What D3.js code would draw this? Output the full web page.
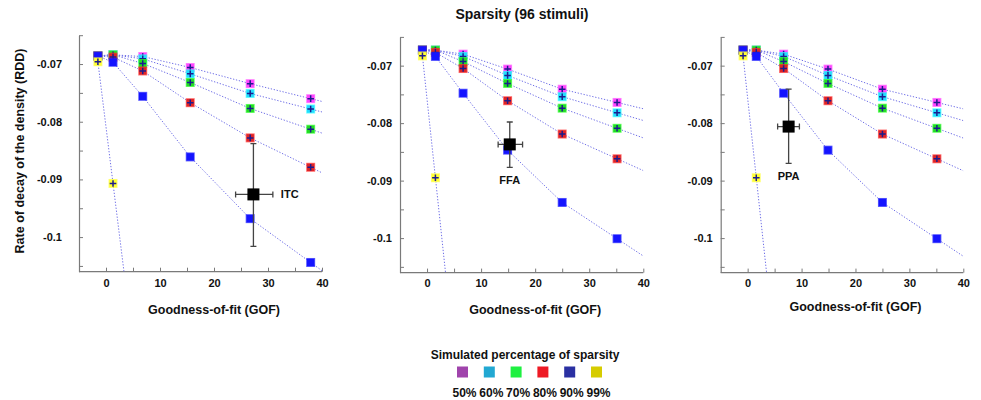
<!DOCTYPE html>
<html><head><meta charset="utf-8">
<script src="https://cdn.jsdelivr.net/npm/d3@7"></script>
<style>
body{margin:0;background:#fff}
svg{display:block}
text{font-family:"Liberation Sans",Arial,sans-serif;font-weight:bold;fill:#111}
</style>
</head><body>
<svg id="c" width="981" height="400"></svg>
<script>
// ---------- data ----------
const sparsityLevels = ["50%", "60%", "70%", "80%", "90%", "99%"];
const markerColors = ["#ff44ff", "#22ddff", "#22dd22", "#e02424", "#1414ff", "#ffff33"];
const legendColors = ["#a044ac", "#22a8d2", "#1ff041", "#ee1a24", "#2a30a2", "#d6cc00"];

const xDomain = [-5, 40];
const yDomain = [-0.106, -0.065];
const xTickValues = [0, 5, 10, 15, 20, 25, 30, 35, 40];
const xTickLabels = ["0", "", "10", "", "20", "", "30", "", "40"];
const yTickValues = [-0.105, -0.1, -0.095, -0.09, -0.085, -0.08, -0.075, -0.07, -0.065];
const yTickLabels = ["", "-0.1", "", "-0.09", "", "-0.08", "", "-0.07", ""];

// Panel 1 (ITC)
const gofITC = [-1.5, 1.3, 6.8, 15.6, 26.7, 37.9];
const rddITC50 = [-0.0686, -0.0684, -0.0687, -0.0706, -0.0734, -0.0760];
const rddITC60 = [-0.0686, -0.0684, -0.0691, -0.0717, -0.0751, -0.0778];
const rddITC70 = [-0.0686, -0.0684, -0.0699, -0.0732, -0.0777, -0.0813];
const rddITC80 = [-0.0686, -0.0688, -0.0712, -0.0767, -0.0828, -0.0879];
const rddITC90 = [-0.0686, -0.0697, -0.0756, -0.0861, -0.0968, -0.1044];
const rddITC99 = [-0.0696, -0.0907];

// Panel 2 (FFA)
const gofFFA = [-0.85, 1.55, 6.67, 14.9, 25.0, 35.15];
const rddFFA50 = [-0.0673, -0.0673, -0.0680, -0.0706, -0.0741, -0.0764];
const rddFFA60 = [-0.0673, -0.0673, -0.0684, -0.0717, -0.0754, -0.0782];
const rddFFA70 = [-0.0673, -0.0673, -0.0693, -0.0731, -0.0774, -0.0809];
const rddFFA80 = [-0.0673, -0.0677, -0.0705, -0.0761, -0.0819, -0.0862];
const rddFFA90 = [-0.0673, -0.0684, -0.0748, -0.0847, -0.0938, -0.1001];
const rddFFA99 = [-0.0683, -0.0895];

// Panel 3 (PPA)
const gofPPA = [-0.85, 1.6, 6.67, 14.9, 25.0, 35.1];
const rddPPA50 = [-0.0673, -0.0673, -0.0680, -0.0706, -0.0741, -0.0764];
const rddPPA60 = [-0.0673, -0.0673, -0.0684, -0.0717, -0.0754, -0.0782];
const rddPPA70 = [-0.0673, -0.0673, -0.0693, -0.0731, -0.0774, -0.0809];
const rddPPA80 = [-0.0673, -0.0677, -0.0705, -0.0761, -0.0819, -0.0862];
const rddPPA90 = [-0.0673, -0.0684, -0.0748, -0.0847, -0.0938, -0.1001];
const rddPPA99 = [-0.0683, -0.0895];

// ROI measurements
const roiNames = ["ITC", "FFA", "PPA"];
const roiGof = [27.3, 15.3, 7.6];
const roiRdd = [-0.0926, -0.0837, -0.0806];
const roiGofLo = [24.0, 13.15, 5.56];
const roiGofHi = [30.9, 17.67, 9.6];
const roiRddHi = [-0.0838, -0.0798, -0.0741];
const roiRddLo = [-0.1016, -0.0877, -0.0870];

// ---------- layout ----------
const panels = [
  {gof: gofITC, rdd: [rddITC50, rddITC60, rddITC70, rddITC80, rddITC90, rddITC99],
   xr: [79, 322], yr: [271.7, 35.2], yPad: 17, xPad: 8, label: "right", xlabY: 314},
  {gof: gofFFA, rdd: [rddFFA50, rddFFA60, rddFFA70, rddFFA80, rddFFA90, rddFFA99],
   xr: [400, 643.3], yr: [272.6, 36.9], yPad: 8, xPad: 7, label: "below", xlabY: 314},
  {gof: gofPPA, rdd: [rddPPA50, rddPPA60, rddPPA70, rddPPA80, rddPPA90, rddPPA99],
   xr: [720.7, 963.3], yr: [272.6, 36.9], yPad: 8, xPad: 7, label: "below", xlabY: 311}
];

const svg = d3.select("#c");

svg.append("text").attr("x", 522).attr("y", 19).attr("text-anchor", "middle")
  .style("font-size", "14px").text("Sparsity (96 stimuli)");

panels.forEach((p, pi) => {
  const x = d3.scaleLinear().domain(xDomain).range(p.xr);
  const y = d3.scaleLinear().domain(yDomain).range(p.yr);
  const g = svg.append("g");

  const clipId = "clip" + pi;
  svg.append("clipPath").attr("id", clipId).append("rect")
    .attr("x", p.xr[0]).attr("y", p.yr[1])
    .attr("width", p.xr[1] - p.xr[0]).attr("height", p.yr[0] - p.yr[1]);

  // axes
  const xAxis = d3.axisBottom(x).tickValues(xTickValues)
    .tickFormat((d, i) => xTickLabels[i]).tickSizeInner(-4).tickSizeOuter(0).tickPadding(p.xPad);
  const yAxis = d3.axisLeft(y).tickValues(yTickValues)
    .tickFormat((d, i) => yTickLabels[i]).tickSizeInner(-4).tickSizeOuter(0).tickPadding(p.yPad);
  const gx = g.append("g").attr("transform", `translate(0,${p.yr[0]})`).call(xAxis);
  const gy = g.append("g").attr("transform", `translate(${p.xr[0]},0)`).call(yAxis);
  [gx, gy].forEach(a => {
    a.select(".domain").attr("stroke", "#7a7a7a").attr("stroke-width", 1.2);
    a.selectAll(".tick line").attr("stroke", "#7a7a7a");
    a.selectAll(".tick text").style("font-size", "11px").attr("fill", "#111")
      .style("font-family", '"Liberation Sans",Arial,sans-serif').style("font-weight", "bold");
  });
  gx.select(".domain").attr("d", `M${p.xr[0]},0H${p.xr[1]}`);

  // x label
  g.append("text").attr("x", x(20)).attr("y", p.xlabY).attr("text-anchor", "middle")
    .style("font-size", "12.5px").text("Goodness-of-fit (GOF)");

  // lines
  const lineGen = d3.line().x(d => x(d[0])).y(d => y(d[1]));
  const lg = g.append("g").attr("clip-path", `url(#${clipId})`);
  p.rdd.forEach((vals, si) => {
    const pts = vals.map((v, k) => [p.gof[k], v]);
    const n = pts.length;
    const slope = (pts[n - 1][1] - pts[n - 2][1]) / (pts[n - 1][0] - pts[n - 2][0]);
    const ext = [xDomain[1], pts[n - 1][1] + slope * (xDomain[1] - pts[n - 1][0])];
    lg.append("path").attr("d", lineGen(pts.concat([ext])))
      .attr("fill", "none").attr("stroke", "#6f6fe6").attr("stroke-width", 1)
      .attr("stroke-dasharray", "1.3,1.7");
  });

  // markers
  const mg = g.append("g").attr("clip-path", `url(#${clipId})`);
  p.rdd.forEach((vals, si) => {
    vals.forEach((v, k) => {
      const cx = x(p.gof[k]), cy = y(v);
      const col = markerColors[si];
      mg.append("rect").attr("x", cx - 4.5).attr("y", cy - 4.5).attr("width", 9).attr("height", 9)
        .attr("fill", d3.color(col).brighter(0.6)).attr("opacity", 0.7);
      mg.append("rect").attr("x", cx - 3.7).attr("y", cy - 3.7).attr("width", 7.4).attr("height", 7.4)
        .attr("fill", col);
      if (si !== 4) {
        mg.append("path").attr("d", `M${cx - 3.3},${cy}H${cx + 3.3}M${cx},${cy - 3.3}V${cy + 3.3}`)
          .attr("stroke", "#1c1c8e").attr("stroke-width", 1.5);
      }
    });
  });

  // ROI marker
  const rx = x(roiGof[pi]), ry = y(roiRdd[pi]);
  const eb = g.append("g").attr("stroke", "#444").attr("stroke-width", 1.3).attr("fill", "none");
  const yh = y(roiRddHi[pi]), yl = y(roiRddLo[pi]), xl = x(roiGofLo[pi]), xh = x(roiGofHi[pi]);
  eb.append("path").attr("d",
    `M${rx},${yh}V${yl}M${rx - 3},${yh}H${rx + 3}M${rx - 3},${yl}H${rx + 3}` +
    `M${xl},${ry}H${xh}M${xl},${ry - 3}V${ry + 3}M${xh},${ry - 3}V${ry + 3}`);
  g.append("rect").attr("x", rx - 6).attr("y", ry - 6).attr("width", 12).attr("height", 12).attr("fill", "#000");
  if (p.label === "right") {
    g.append("text").attr("x", xh + 8).attr("y", ry + 4).style("font-size", "11px").text(roiNames[pi]);
  } else {
    g.append("text").attr("x", rx).attr("y", yl + 17).attr("text-anchor", "middle")
      .style("font-size", "11px").text(roiNames[pi]);
  }
});

// y label
svg.append("text").attr("transform", "translate(24,151) rotate(-90)").attr("text-anchor", "middle")
  .style("font-size", "12.5px").text("Rate of decay of the density (RDD)");

// legend
svg.append("text").attr("x", 525).attr("y", 358.5).attr("text-anchor", "middle")
  .style("font-size", "12px").text("Simulated percentage of sparsity");
const lx = d3.scalePoint().domain(sparsityLevels).range([462.5, 596.5]);
const leg = svg.append("g");
sparsityLevels.forEach((s, i) => {
  leg.append("rect").attr("x", lx(s) - 5.5).attr("y", 366.5).attr("width", 11).attr("height", 11)
    .attr("fill", legendColors[i]);
  leg.append("text").attr("x", lx(s) + 2).attr("y", 396.5).attr("text-anchor", "middle")
    .style("font-size", "12px").text(s);
});
</script>
</body></html>
